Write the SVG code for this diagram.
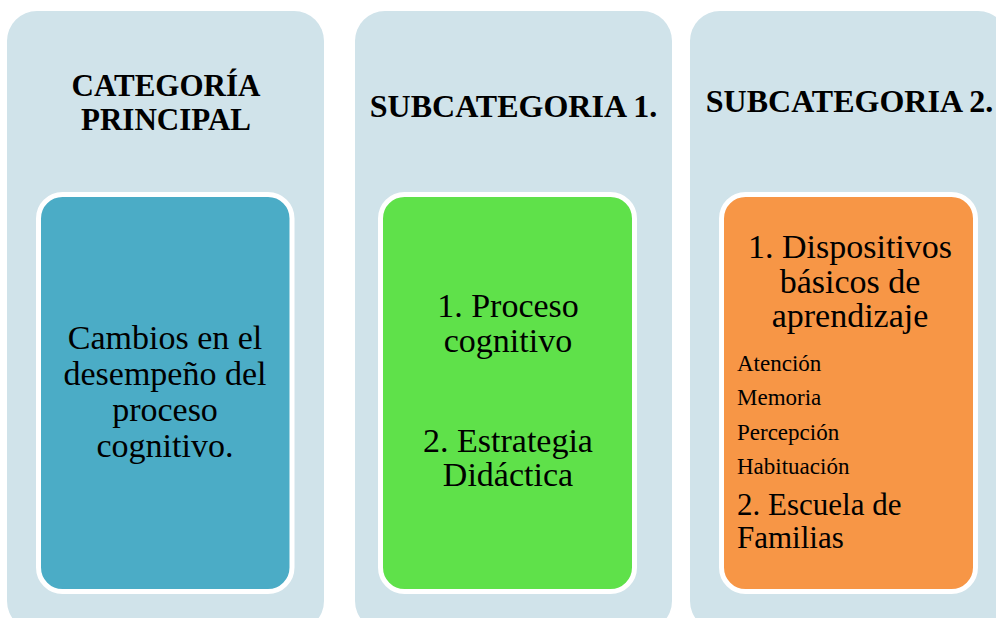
<svg xmlns="http://www.w3.org/2000/svg" width="996" height="618" viewBox="0 0 996 618">
<style>
.panel{fill:#D0E3EA}
.box{stroke:#FFFFFF;stroke-width:5}
.title{font-family:"Liberation Serif",serif;font-weight:bold;font-size:32px;fill:#000;text-anchor:middle}
.t2{font-size:31px}
.body{font-family:"Liberation Serif",serif;font-size:34px;fill:#000;text-anchor:middle}
.small{font-family:"Liberation Serif",serif;font-size:23px;fill:#000}
.mid{font-family:"Liberation Serif",serif;font-size:31px;fill:#000}
</style>
<rect width="996" height="618" fill="#FFFFFF"/>
<g id="categoria-principal">
<rect class="panel" x="7" y="11" width="317" height="620" rx="30"/>
<text class="title t2" x="166" y="96">CATEGORÍA</text>
<text class="title t2" x="166" y="130">PRINCIPAL</text>
<rect class="box" x="38.5" y="194.5" width="253.5" height="397" rx="24" fill="#4BACC6"/>
<text class="body" x="165" y="349">Cambios en el</text>
<text class="body" x="165" y="385">desempeño del</text>
<text class="body" x="165" y="421">proceso</text>
<text class="body" x="165" y="457">cognitivo.</text>
</g>
<g id="subcategoria-1">
<rect class="panel" x="355" y="11" width="317" height="620" rx="30"/>
<text class="title" x="513.5" y="117">SUBCATEGORIA 1.</text>
<rect class="box" x="380.5" y="194.5" width="254" height="397" rx="24" fill="#5FE14A"/>
<text class="body" x="508" y="317">1. Proceso</text>
<text class="body" x="508" y="352">cognitivo</text>
<text class="body" x="508" y="452">2. Estrategia</text>
<text class="body" x="508" y="486">Didáctica</text>
</g>
<g id="subcategoria-2">
<rect class="panel" x="690" y="11" width="318" height="620" rx="30"/>
<text class="title" x="849.5" y="112">SUBCATEGORIA 2.</text>
<rect class="box" x="721.5" y="194.5" width="254" height="397" rx="24" fill="#F79646"/>
<text class="body" x="850" y="258">1. Dispositivos</text>
<text class="body" x="850" y="293">básicos de</text>
<text class="body" x="850" y="327">aprendizaje</text>
<text class="small" x="737" y="371">Atención</text>
<text class="small" x="737" y="405">Memoria</text>
<text class="small" x="737" y="440">Percepción</text>
<text class="small" x="737" y="474">Habituación</text>
<text class="mid" x="737" y="515">2. Escuela de</text>
<text class="mid" x="737" y="548">Familias</text>
</g>
<g id="connectors"/>
</svg>
